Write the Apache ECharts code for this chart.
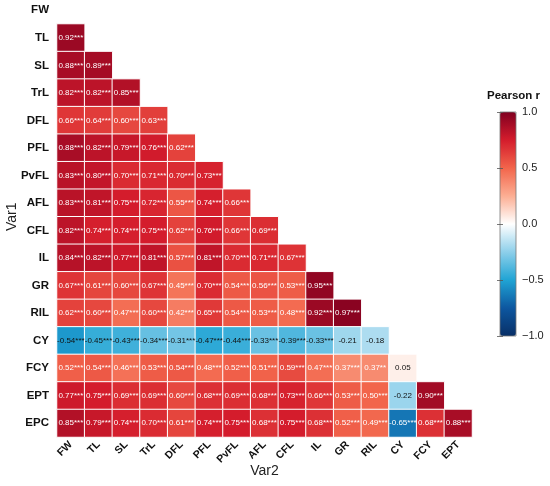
<!DOCTYPE html>
<html>
<head>
<meta charset="utf-8">
<script src="https://cdn.jsdelivr.net/npm/echarts@6/dist/echarts.min.js"></script>
<style>
  html, body { margin: 0; padding: 0; background: #fff; }
  #container { width: 550px; height: 486px; }
</style>
</head>
<body>
<div id="container"></div>
<script type="text/javascript">
    // variables, top to bottom (Var1) and left to right (Var2)
    var vars = ['FW', 'TL', 'SL', 'TrL', 'DFL', 'PFL', 'PvFL', 'AFL', 'CFL', 'IL', 'GR', 'RIL', 'CY', 'FCY', 'EPT', 'EPC'];
    var colVars = vars.slice(0, 15);

    // lower triangle, one list per row (row FW is empty)
    var rowFW = [];
    var rowTL = ['0.92***'];
    var rowSL = ['0.88***', '0.89***'];
    var rowTrL = ['0.82***', '0.82***', '0.85***'];
    var rowDFL = ['0.66***', '0.64***', '0.60***', '0.63***'];
    var rowPFL = ['0.88***', '0.82***', '0.79***', '0.76***', '0.62***'];
    var rowPvFL = ['0.83***', '0.80***', '0.70***', '0.71***', '0.70***', '0.73***'];
    var rowAFL = ['0.83***', '0.81***', '0.75***', '0.72***', '0.55***', '0.74***', '0.66***'];
    var rowCFL = ['0.82***', '0.74***', '0.74***', '0.75***', '0.62***', '0.76***', '0.66***', '0.69***'];
    var rowIL = ['0.84***', '0.82***', '0.77***', '0.81***', '0.57***', '0.81***', '0.70***', '0.71***', '0.67***'];
    var rowGR = ['0.67***', '0.61***', '0.60***', '0.67***', '0.45***', '0.70***', '0.54***', '0.56***', '0.53***', '0.95***'];
    var rowRIL = ['0.62***', '0.60***', '0.47***', '0.60***', '0.42***', '0.65***', '0.54***', '0.53***', '0.48***', '0.92***', '0.97***'];
    var rowCY = ['-0.54***', '-0.45***', '-0.43***', '-0.34***', '-0.31***', '-0.47***', '-0.44***', '-0.33***', '-0.39***', '-0.33***', '-0.21', '-0.18'];
    var rowFCY = ['0.52***', '0.54***', '0.46***', '0.53***', '0.54***', '0.48***', '0.52***', '0.51***', '0.59***', '0.47***', '0.37***', '0.37**', '0.05'];
    var rowEPT = ['0.77***', '0.75***', '0.69***', '0.69***', '0.60***', '0.68***', '0.69***', '0.68***', '0.73***', '0.66***', '0.53***', '0.50***', '-0.22', '0.90***'];
    var rowEPC = ['0.85***', '0.79***', '0.74***', '0.70***', '0.61***', '0.74***', '0.75***', '0.68***', '0.75***', '0.68***', '0.52***', '0.49***', '-0.65***', '0.68***', '0.88***'];

    var rows = [rowFW, rowTL, rowSL, rowTrL, rowDFL, rowPFL, rowPvFL, rowAFL, rowCFL, rowIL, rowGR, rowRIL, rowCY, rowFCY, rowEPT, rowEPC];

    var font = 'Liberation Sans, Arial, sans-serif';

    var data = [];
    rows.forEach(function (row, y) {
        row.forEach(function (txt, x) {
            var v = parseFloat(txt);
            data.push({
                value: [x, y, v],
                text: txt,
                label: { color: (v >= 0.3 || v <= -0.6) ? '#ffffff' : '#111111' }
            });
        });
    });

    var dom = document.getElementById('container');
    var myChart = echarts.init(dom, null, { renderer: 'canvas' });

    var cbTick = { show: true, inside: true, length: 3, lineStyle: { color: '#555', width: 0.8 } };

    var option = {
        animation: false,
        backgroundColor: '#ffffff',
        textStyle: { fontFamily: font },
        title: {
            text: 'Pearson r',
            left: 487,
            top: 90,
            padding: 0,
            textStyle: { fontSize: 11.5, fontWeight: 'bold', color: '#111', fontFamily: font }
        },
        grid: [
            { left: 57, top: -3.5, width: 415, height: 440.5, containLabel: false, outerBoundsMode: 'none' },
            { left: 500, top: 112, width: 16, height: 224, containLabel: false, outerBoundsMode: 'none',
              show: true, borderColor: '#777', borderWidth: 0.8, z: 10 }
        ],
        xAxis: [
            {
                type: 'category',
                gridIndex: 0,
                data: colVars,
                position: 'bottom',
                name: 'Var2',
                nameLocation: 'middle',
                nameGap: 27,
                nameMoveOverlap: false,
                nameTextStyle: { fontSize: 14, color: '#222', fontFamily: font },
                axisLine: { show: false },
                axisTick: { show: false },
                splitLine: { show: false },
                axisLabel: { rotate: 45, fontSize: 10.5, fontWeight: 'bold', color: '#111', margin: 6, interval: 0, fontFamily: font }
            },
            {
                type: 'value',
                gridIndex: 1,
                show: false
            }
        ],
        yAxis: [
            {
                type: 'category',
                gridIndex: 0,
                data: vars,
                inverse: true,
                name: 'Var1',
                nameLocation: 'middle',
                nameGap: 38,
                nameMoveOverlap: false,
                nameRotate: 90,
                nameTextStyle: { fontSize: 14, color: '#222', fontFamily: font },
                axisLine: { show: false },
                axisTick: { show: false },
                splitLine: { show: false },
                axisLabel: { fontSize: 11.5, fontWeight: 'bold', color: '#111', margin: 8, interval: 0, fontFamily: font }
            },
            {
                type: 'value',
                gridIndex: 1,
                position: 'right',
                min: -1,
                max: 1,
                interval: 0.5,
                z: 10,
                axisLine: { show: false },
                axisTick: cbTick,
                splitLine: { show: false },
                axisLabel: {
                    fontSize: 11, color: '#222', margin: 6, fontFamily: font,
                    formatter: function (v) { return v.toFixed(1).replace('-', '\u2212'); }
                }
            },
            {
                type: 'value',
                gridIndex: 1,
                position: 'left',
                min: -1,
                max: 1,
                interval: 0.5,
                z: 10,
                axisLine: { show: false },
                axisTick: cbTick,
                axisLabel: { show: false },
                splitLine: { show: false }
            }
        ],
        visualMap: {
            type: 'continuous',
            seriesIndex: 0,
            min: -1,
            max: 1,
            calculable: false,
            orient: 'vertical',
            left: 500,
            top: 112,
            padding: 0,
            itemWidth: 16,
            itemHeight: 224,
            text: ['', ''],
            showLabel: false,
            z: 4,
            inRange: {
                color: ['#082f66', '#0d57a0', '#20a4d4', '#8dcfea', '#ffffff', '#fcae93', '#f2654b', '#d41c2c', '#800020']
            }
        },
        series: [
            {
                name: 'Pearson r',
                type: 'heatmap',
                xAxisIndex: 0,
                yAxisIndex: 0,
                data: data,
                itemStyle: { borderColor: '#ffffff', borderWidth: 1 },
                label: {
                    show: true,
                    fontSize: 8,
                    fontFamily: font,
                    formatter: function (p) { return p.data.text; }
                },
                emphasis: { disabled: true }
            }
        ]
    };

    if (option && typeof option === 'object') {
        myChart.setOption(option);
    }
</script>
</body>
</html>
